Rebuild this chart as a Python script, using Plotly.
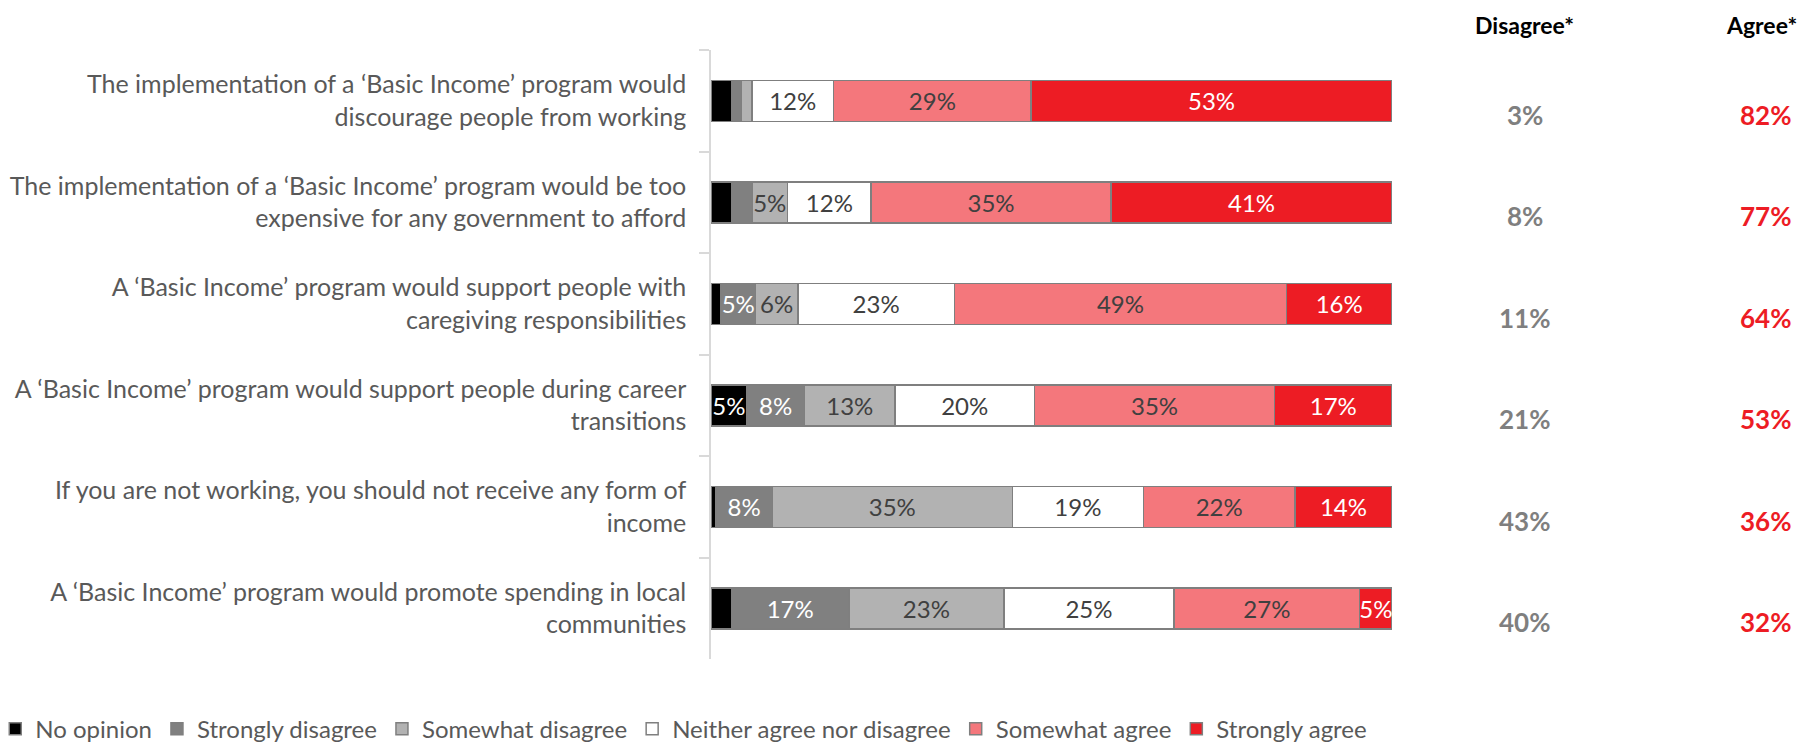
import plotly.graph_objects as go

categories = [
    "The implementation of a ‘Basic Income’ program would<br>discourage people from working",
    "The implementation of a ‘Basic Income’ program would be too<br>expensive for any government to afford",
    "A ‘Basic Income’ program would support people with<br>caregiving responsibilities",
    "A ‘Basic Income’ program would support people during career<br>transitions",
    "If you are not working, you should not receive any form of<br>income",
    "A ‘Basic Income’ program would promote spending in local<br>communities",
]

# shares (each row totals 100)
no_opinion = [3, 3, 1.5, 5.25, 0.75, 3]
strongly_disagree = [1.5, 3, 5, 8.5, 8.25, 17.25]
somewhat_disagree = [1.5, 5.25, 6.25, 13.25, 35.25, 22.75]
neither = [12, 12.25, 23, 20.5, 19.25, 25]
somewhat_agree = [29, 35.25, 48.75, 35.25, 22.25, 27.25]
strongly_agree = [53, 41.25, 15.5, 17.25, 14.25, 4.75]

disagree_total = [3, 8, 11, 21, 43, 40]
agree_total = [82, 77, 64, 53, 36, 32]

series_names = ["No opinion", "Strongly disagree", "Somewhat disagree",
                "Neither agree nor disagree", "Somewhat agree", "Strongly agree"]
series_values = [no_opinion, strongly_disagree, somewhat_disagree,
                 neither, somewhat_agree, strongly_agree]
series_colors = ["#000000", "#808080", "#b2b2b2", "#ffffff", "#f4777c", "#ed1c24"]
text_colors = ["#ffffff", "#ffffff", "#404040", "#404040", "#404040", "#ffffff"]

FONT = "Lato, 'Open Sans', sans-serif"

fig = go.Figure()
for name, vals, col, tcol in zip(series_names, series_values, series_colors, text_colors):
    fig.add_trace(go.Bar(
        name=name,
        y=categories,
        x=vals,
        orientation="h",
        marker=dict(color=col, line=dict(color="#7f7f7f", width=1.5)),
        text=[f"{v:.0f}%" if v >= 4.5 else "" for v in vals],
        textposition="inside",
        insidetextanchor="middle",
        textangle=0,
        constraintext="none",
        textfont=dict(family=FONT, size=24, color=tcol),
        cliponaxis=False,
        hoverinfo="skip",
    ))

annotations = [
    dict(text="<b>Disagree*</b>", xref="paper", yref="paper", x=1.195, y=1.041,
         showarrow=False, font=dict(family=FONT, size=23, color="#000000"),
         xanchor="center", yanchor="middle"),
    dict(text="<b>Agree*</b>", xref="paper", yref="paper", x=1.542, y=1.041,
         showarrow=False, font=dict(family=FONT, size=23, color="#000000"),
         xanchor="center", yanchor="middle"),
]
for cat, d, a in zip(categories, disagree_total, agree_total):
    annotations.append(dict(text=f"<b>{d}%</b>", xref="paper", yref="y", x=1.195, y=cat,
                            yshift=-14, showarrow=False,
                            font=dict(family=FONT, size=26, color="#7f7f7f"),
                            xanchor="center", yanchor="middle"))
    annotations.append(dict(text=f"<b>{a}%</b>", xref="paper", yref="y", x=1.548, y=cat,
                            yshift=-14, showarrow=False,
                            font=dict(family=FONT, size=26, color="#ed1c24"),
                            xanchor="center", yanchor="middle"))

fig.update_layout(
    width=1804, height=743,
    barmode="stack",
    bargap=0.596,
    plot_bgcolor="#ffffff",
    paper_bgcolor="#ffffff",
    margin=dict(l=711, r=412, t=50, b=84, autoexpand=False),
    font=dict(family=FONT, size=24, color="#595959"),
    xaxis=dict(range=[0, 100], visible=False, fixedrange=True),
    yaxis=dict(
        categoryorder="array", categoryarray=categories, autorange="reversed",
        showline=True, linecolor="#d9d9d9", linewidth=1.5,
        ticks="outside", ticklen=10, tickcolor="#d9d9d9", tickwidth=1.5,
        tickson="boundaries", showgrid=False, automargin=False, fixedrange=True,
        tickfont=dict(family=FONT, size=25, color="#595959"),
        ticklabelstandoff=18,
    ),
    showlegend=True,
    legend=dict(orientation="h", x=-1.051, y=-0.115, xanchor="left", yanchor="middle",
                font=dict(family=FONT, size=24, color="#595959"),
                traceorder="normal", itemclick=False, itemdoubleclick=False),
    annotations=annotations,
)

fig.write_html("out.html", config={"displayModeBar": False},
               post_script="document.body.style.margin='0px';")
